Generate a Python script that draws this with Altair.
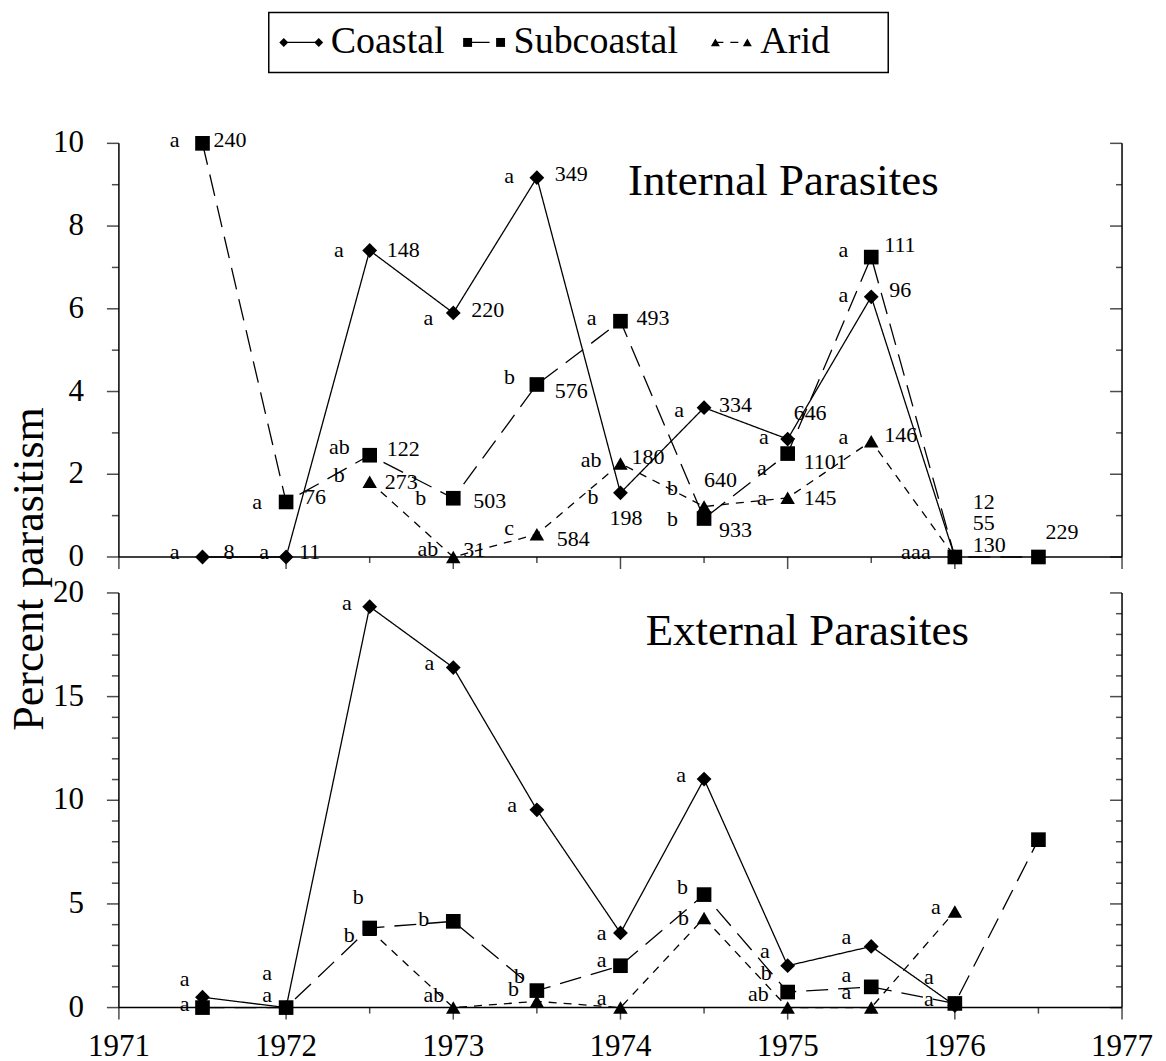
import altair as alt
import pandas as pd

SITES = ["Coastal", "Subcoastal", "Arid"]
SHAPES = ["diamond", "square", "triangle-up"]
YEARS = [1971.5, 1972, 1972.5, 1973, 1973.5, 1974, 1974.5, 1975, 1975.5, 1976, 1976.5]

# ---- Internal parasites (percent parasitism) ----
INT_COASTAL = [0, 0, 7.41, 5.90, 9.17, 1.55, 3.61, 2.85, 6.29, 0, None]
INT_SUBCOASTAL = [10.0, 1.33, 2.46, 1.42, 4.17, 5.70, 0.93, 2.50, 7.25, 0, 0]
INT_ARID = [None, None, 1.82, 0, 0.55, 2.26, 1.22, 1.43, 2.80, 0, None]

INT_COASTAL_SIG = ["a", "a", "a", "a", "a", "b", "a", "a", "a", "a", None]
INT_SUBCOASTAL_SIG = ["a", "a", "ab", "b", "b", "a", "b", "a", "a", "a", None]
INT_ARID_SIG = [None, None, "b", "ab", "c", "ab", "b", "a", "a", "a", None]

INT_COASTAL_N = ["8", "11", "148", "220", "349", "198", "334", "646", "96", "12", None]
INT_SUBCOASTAL_N = ["240", "76", "122", "503", "576", "493", "933", "1101", "111", "130", "229"]
INT_ARID_N = [None, None, "273", "31", "584", "180", "640", "145", "146", "55", None]

# ---- External parasites (percent parasitism) ----
EXT_COASTAL = [0.5, 0, 19.34, 16.4, 9.54, 3.6, 11.02, 2.02, 2.95, 0.1, None]
EXT_SUBCOASTAL = [0, 0, 3.84, 4.16, 0.82, 2.02, 5.45, 0.75, 1.0, 0.2, 8.1]
EXT_ARID = [None, None, 3.75, 0, 0.3, 0, 4.32, 0, 0, 4.64, None]

EXT_COASTAL_SIG = ["a", "a", "a", "a", "a", "a", "a", "a", "a", "a", None]
EXT_SUBCOASTAL_SIG = ["a", "a", "b", "b", "b", "a", "b", "b", "a", "a", None]
EXT_ARID_SIG = [None, None, "b", "ab", "b", "a", "b", "ab", "a", "a", None]
EXT_N = [None] * 11

# ---- axis tick values and labels ----
X_MIN, X_MAX = 1971, 1977
X_MAJOR = [1971, 1972, 1973, 1974, 1975, 1976, 1977]
X_MINOR = [1971.5, 1972.5, 1973.5, 1974.5, 1975.5, 1976.5]
X_LABELS = ["1971", "1972", "1973", "1974", "1975", "1976", "1977"]
TOP_Y_MAJOR = [0, 2, 4, 6, 8, 10]
TOP_Y_MINOR = [1, 3, 5, 7, 9]
BOT_Y_MAJOR = [0, 5, 10, 15, 20]
BOT_Y_MINOR = [1, 2, 3, 4, 6, 7, 8, 9, 11, 12, 13, 14, 16, 17, 18, 19]
Y_TITLE = "Percent parasitism"
SITE_LABELS = ["Coastal", "Subcoastal", "Arid"]

# label placement (pixel nudges: letter dx, letter dy, count dx, count dy)
NUDGE = {
    ("int", "Coastal", 1971.5): (-23, -5, 21, -5),
    ("int", "Coastal", 1972): (-17, -5, 13, -5),
    ("int", "Coastal", 1972.5): (-26, 0, 17, 0),
    ("int", "Coastal", 1973): (-20, 5, 18, -3),
    ("int", "Coastal", 1973.5): (-23, -2, 18, -4),
    ("int", "Coastal", 1974): (-22, 4, -11, 25),
    ("int", "Coastal", 1974.5): (-20, 2, 15, -3),
    ("int", "Coastal", 1975): (-19, -2, 6, -26),
    ("int", "Coastal", 1975.5): (-23, -2, 18, -7),
    ("int", "Coastal", 1976): (-44, -5, 18, -55),
    ("int", "Subcoastal", 1971.5): (-23, -3, 11, -3),
    ("int", "Subcoastal", 1972): (-24, 0, 18, -5),
    ("int", "Subcoastal", 1972.5): (-20, -8, 17, -6),
    ("int", "Subcoastal", 1973): (-27, 0, 20, 3),
    ("int", "Subcoastal", 1973.5): (-22, -7, 18, 7),
    ("int", "Subcoastal", 1974): (-24, -3, 16, -3),
    ("int", "Subcoastal", 1974.5): (-26, 0, 15, 12),
    ("int", "Subcoastal", 1975): (-21, 14, 16, 8),
    ("int", "Subcoastal", 1975.5): (-23, -7, 13, -12),
    ("int", "Subcoastal", 1976): (-24, -5, 18, -12),
    ("int", "Subcoastal", 1976.5): (-20, 0, 7, -25),
    ("int", "Arid", 1972.5): (-25, -7, 15, 0),
    ("int", "Arid", 1973): (-15, -8, 10, -7),
    ("int", "Arid", 1973.5): (-23, -6, 20, 5),
    ("int", "Arid", 1974): (-19, -3, 11, -6),
    ("int", "Arid", 1974.5): (-26, -19, 0, -27),
    ("int", "Arid", 1975): (-21, 0, 16, 0),
    ("int", "Arid", 1975.5): (-23, -4, 13, -6),
    ("int", "Arid", 1976): (-34, -5, 18, -34),
    ("ext", "Coastal", 1971.5): (-13, -18, 0, 0),
    ("ext", "Coastal", 1972): (-14, -35, 0, 0),
    ("ext", "Coastal", 1972.5): (-18, -4, 0, 0),
    ("ext", "Coastal", 1973): (-19, -5, 0, 0),
    ("ext", "Coastal", 1973.5): (-20, -5, 0, 0),
    ("ext", "Coastal", 1974): (-14, 0, 0, 0),
    ("ext", "Coastal", 1974.5): (-18, -4, 0, 0),
    ("ext", "Coastal", 1975): (-18, -15, 0, 0),
    ("ext", "Coastal", 1975.5): (-20, -9, 0, 0),
    ("ext", "Coastal", 1976): (-21, -29, 0, 0),
    ("ext", "Subcoastal", 1971.5): (-13, -4, 0, 0),
    ("ext", "Subcoastal", 1972): (-14, -13, 0, 0),
    ("ext", "Subcoastal", 1972.5): (-6, -31, 0, 0),
    ("ext", "Subcoastal", 1973): (-24, -2, 0, 0),
    ("ext", "Subcoastal", 1973.5): (-12, -15, 0, 0),
    ("ext", "Subcoastal", 1974): (-14, -6, 0, 0),
    ("ext", "Subcoastal", 1974.5): (-16, -8, 0, 0),
    ("ext", "Subcoastal", 1975): (-16, -19, 0, 0),
    ("ext", "Subcoastal", 1975.5): (-20, -12, 0, 0),
    ("ext", "Subcoastal", 1976): (-21, -4, 0, 0),
    ("ext", "Arid", 1972.5): (-15, 5, 0, 0),
    ("ext", "Arid", 1973): (-9, -13, 0, 0),
    ("ext", "Arid", 1973.5): (-18, -12, 0, 0),
    ("ext", "Arid", 1974): (-14, -10, 0, 0),
    ("ext", "Arid", 1974.5): (-15, 0, 0, 0),
    ("ext", "Arid", 1975): (-19, -14, 0, 0),
    ("ext", "Arid", 1975.5): (-20, -16, 0, 0),
    ("ext", "Arid", 1976): (-14, -4, 0, 0),
}

FONT = "Liberation Serif, Times New Roman, DejaVu Serif, serif"
W = 1004
H_TOP = 414
H_BOT = 415
H_LEG = 99


def make_df(panel, values, sigs, counts):
    rows = []
    for site, vals, sg, ct in zip(SITES, values, sigs, counts):
        for yr, v, s, c in zip(YEARS, vals, sg, ct):
            if v is None:
                continue
            n = NUDGE.get((panel, site, yr), (-18, 0, 14, 0))
            rows.append(dict(site=site, year=yr, value=v, sig=s, n=c,
                             ldx=n[0], ldy=n[1], cdx=n[2], cdy=n[3]))
    return pd.DataFrame(rows)


int_df = make_df("int", [INT_COASTAL, INT_SUBCOASTAL, INT_ARID],
                 [INT_COASTAL_SIG, INT_SUBCOASTAL_SIG, INT_ARID_SIG],
                 [INT_COASTAL_N, INT_SUBCOASTAL_N, INT_ARID_N])
ext_df = make_df("ext", [EXT_COASTAL, EXT_SUBCOASTAL, EXT_ARID],
                 [EXT_COASTAL_SIG, EXT_SUBCOASTAL_SIG, EXT_ARID_SIG],
                 [EXT_N, EXT_N, EXT_N])

x_scale = alt.Scale(domain=[X_MIN, X_MAX], nice=False, zero=False)
dash_scale = alt.Scale(domain=SITES, range=[[1, 0], [22, 10], [8, 7]])
shape_scale = alt.Scale(domain=SITES, range=SHAPES)
size_scale = alt.Scale(domain=SITES, range=[220, 210, 210])

X = lambda f: alt.X(f, type="quantitative", axis=None)
Y = lambda f: alt.Y(f, type="quantitative", axis=None)


def yticks_layer(vals, xpos, size, offset):
    d = pd.DataFrame({"year": [xpos] * len(vals), "value": vals})
    return alt.Chart(d).mark_tick(
        orient="horizontal", size=size, thickness=1.5, color="black", xOffset=offset
    ).encode(x=X("year"), y=Y("value"))


def xticks_layer(vals, size):
    d = pd.DataFrame({"year": vals, "value": [0] * len(vals)})
    return alt.Chart(d).mark_tick(
        orient="vertical", size=size, thickness=1.5, color="black", yOffset=size / 2
    ).encode(x=X("year"), y=Y("value"))


def panel(df, ymax, ymajor, yminor, height, title_text, title_x,
          show_x_labels, y_title):
    y_scale = alt.Scale(domain=[0, ymax], nice=False, zero=True)

    base = alt.Chart(df)
    lines = base.mark_line(strokeWidth=1.3, color="black").encode(
        x=alt.X("year:Q", scale=x_scale, axis=None),
        y=alt.Y("value:Q", scale=y_scale, axis=None),
        strokeDash=alt.StrokeDash("site:N", scale=dash_scale, legend=None),
        order="year:Q",
    )
    pts = base.mark_point(filled=True, opacity=1, color="black").encode(
        x=X("year"), y=Y("value"),
        shape=alt.Shape("site:N", scale=shape_scale, legend=None),
        size=alt.Size("site:N", scale=size_scale, legend=None),
    )
    letters = base.transform_filter("datum.sig != null").mark_text(
        font=FONT, fontSize=22, color="black", align="right", baseline="middle",
        dx=alt.ExprRef(expr="datum.ldx"), dy=alt.ExprRef(expr="datum.ldy"),
    ).encode(x=X("year"), y=Y("value"), text="sig:N")
    counts = base.transform_filter("datum.n != null").mark_text(
        font=FONT, fontSize=22, color="black", align="left", baseline="middle",
        dx=alt.ExprRef(expr="datum.cdx"), dy=alt.ExprRef(expr="datum.cdy"),
    ).encode(x=X("year"), y=Y("value"), text="n:N")

    # frame lines (left, right and bottom axis lines)
    vframe = pd.DataFrame({"year": [X_MIN, X_MAX], "value": [0, 0], "v2": [ymax, ymax]})
    vlines = alt.Chart(vframe).mark_rule(color="black", strokeWidth=1.5).encode(
        x=X("year"), y=Y("value"), y2="v2:Q")
    hframe = pd.DataFrame({"year": [X_MIN], "y2r": [X_MAX], "value": [0]})
    hline = alt.Chart(hframe).mark_rule(color="black", strokeWidth=1.5).encode(
        x=X("year"), x2="y2r:Q", y=Y("value"))

    ylab_df = pd.DataFrame({"year": [X_MIN] * len(ymajor), "value": ymajor,
                            "lab": [str(v) for v in ymajor]})
    ylab = alt.Chart(ylab_df).mark_text(
        font=FONT, fontSize=31, color="black", align="right", baseline="middle", dx=-35
    ).encode(x=X("year"), y=Y("value"), text="lab:N")

    title = alt.Chart(pd.DataFrame({"t": [title_text]})).mark_text(
        font=FONT, fontSize=45, color="black", align="center", baseline="alphabetic"
    ).encode(x=alt.value(title_x), y=alt.value(52), text="t:N")

    layers = [lines, vlines, hline, pts, letters]
    if df["n"].notna().any():
        layers.append(counts)
    layers += [
        yticks_layer(ymajor, X_MIN, 12, -6),
        yticks_layer(yminor, X_MIN, 7, -3.5),
        yticks_layer(ymajor, X_MAX, 12, -6),
        yticks_layer(yminor, X_MAX, 6, -3),
        xticks_layer(X_MAJOR, 12),
        xticks_layer(X_MINOR, 6),
        ylab,
        title,
    ]
    if show_x_labels:
        xlab_df = pd.DataFrame({"year": X_MAJOR, "value": [0] * len(X_MAJOR),
                                "lab": X_LABELS})
        xlab = alt.Chart(xlab_df).mark_text(
            font=FONT, fontSize=31, color="black", align="center", baseline="top", dy=24
        ).encode(x=X("year"), y=Y("value"), text="lab:N")
        layers.append(xlab)
    if y_title:
        ytitle = alt.Chart(pd.DataFrame({"t": [y_title]})).mark_text(
            font=FONT, fontSize=44, color="black", align="center",
            baseline="alphabetic", angle=270
        ).encode(x=alt.value(-76), y=alt.value(426), text="t:N")
        layers.append(ytitle)
    return alt.layer(*layers).properties(width=W, height=height)


top = panel(int_df, 10, TOP_Y_MAJOR, TOP_Y_MINOR, H_TOP,
            "Internal Parasites", 665, False, Y_TITLE)
bot = panel(ext_df, 20, BOT_Y_MAJOR, BOT_Y_MINOR, H_BOT,
            "External Parasites", 689, True, None)

# ---- legend (drawn in its own strip above the panels) ----
LEG_BOX = {"x0": 150, "x1": 770, "y0": 4, "y1": 64}
LEG_ROW_Y = 34
LEG_SYM1 = [165, 349, 597]
LEG_SYM2 = [200, 382, 629]
LEG_TEXT = [212, 395, 642]

lx = alt.Scale(domain=[0, W], nice=False, zero=False)
ly = alt.Scale(domain=[0, H_LEG], nice=False, zero=False, reverse=True)

leg_df = pd.DataFrame({
    "site": SITES, "label": SITE_LABELS, "a": LEG_SYM1, "b": LEG_SYM2, "t": LEG_TEXT,
    "y": [LEG_ROW_Y] * 3,
})
leg_pts = pd.DataFrame({
    "site": SITES * 2, "px": LEG_SYM1 + LEG_SYM2, "y": [LEG_ROW_Y] * 6,
})
box = alt.Chart(pd.DataFrame([LEG_BOX])).mark_rect(
    fillOpacity=0, stroke="black", strokeWidth=1.5
).encode(
    x=alt.X("x0:Q", scale=lx, axis=None), x2="x1:Q",
    y=alt.Y("y0:Q", scale=ly, axis=None), y2="y1:Q",
)
leg_lines = alt.Chart(leg_df).mark_rule(color="black", strokeWidth=1.3).encode(
    x=alt.X("a:Q", scale=lx, axis=None), x2="b:Q",
    y=alt.Y("y:Q", scale=ly, axis=None),
    strokeDash=alt.StrokeDash("site:N", scale=dash_scale, legend=None),
)
leg_sym = alt.Chart(leg_pts).mark_point(filled=True, opacity=1, color="black").encode(
    x=alt.X("px:Q", scale=lx, axis=None),
    y=alt.Y("y:Q", scale=ly, axis=None),
    shape=alt.Shape("site:N", scale=shape_scale, legend=None),
    size=alt.value(80),
)
leg_txt = alt.Chart(leg_df).mark_text(
    font=FONT, fontSize=38, color="black", align="left", baseline="middle"
).encode(
    x=alt.X("t:Q", scale=lx, axis=None),
    y=alt.Y("y:Q", scale=ly, axis=None),
    text="label:N",
)
legend = alt.layer(box, leg_lines, leg_sym, leg_txt).properties(width=W, height=H_LEG)

chart = alt.vconcat(legend, top, bot, spacing=36, bounds="flush").properties(
    padding={"left": 0, "top": 0, "right": 5, "bottom": 5}
).configure_view(stroke=None)

chart.save("out.html", embed_options={"renderer": "svg", "actions": False})
